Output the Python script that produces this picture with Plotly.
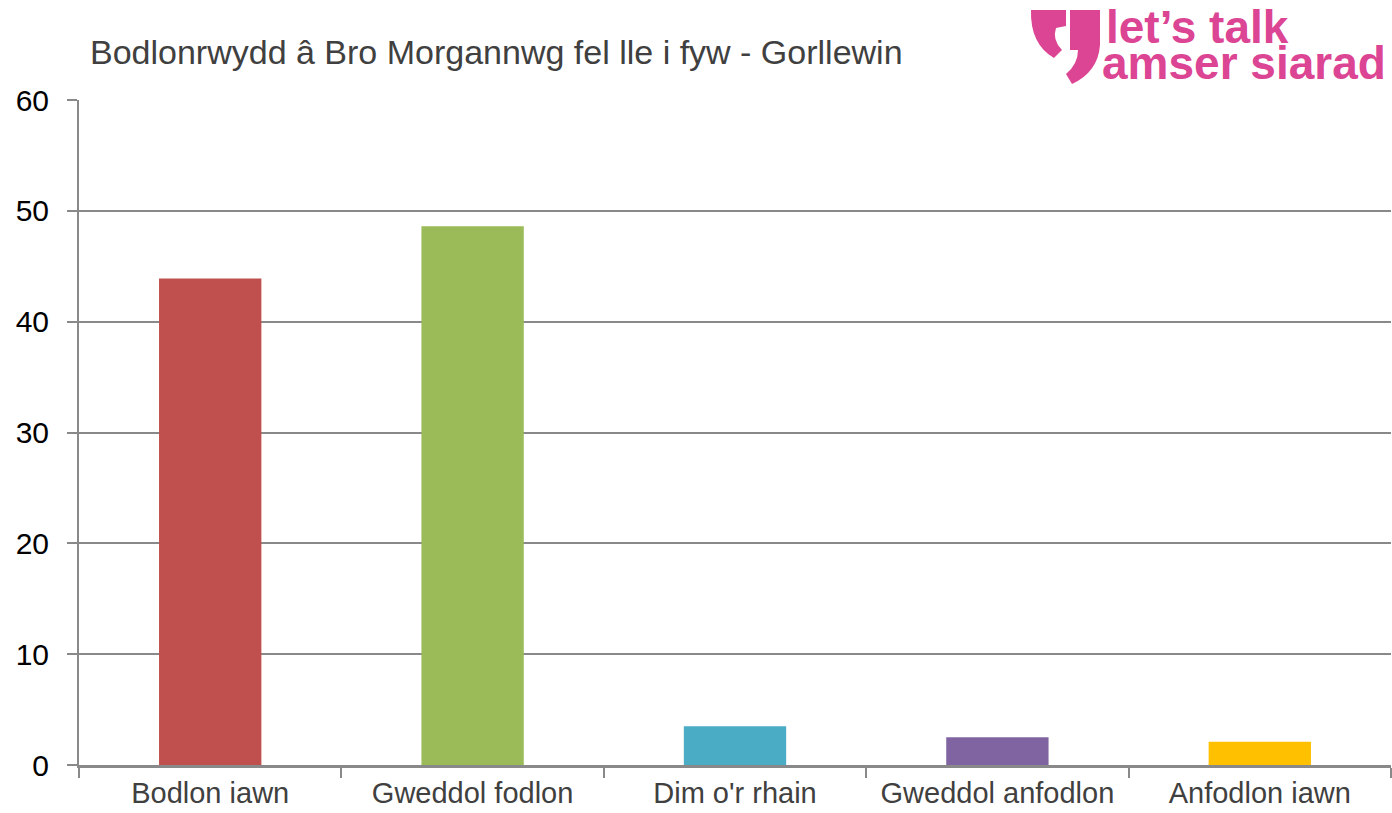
import plotly.graph_objects as go

categories = ["Bodlon iawn", "Gweddol fodlon", "Dim o'r rhain", "Gweddol anfodlon", "Anfodlon iawn"]
values = [43.9, 48.6, 3.5, 2.5, 2.1]
colors = ["#C0504D", "#9BBB59", "#4BACC6", "#8064A2", "#FFC000"]
title_text = "Bodlonrwydd â Bro Morgannwg fel lle i fyw - Gorllewin"

W, H = 1392, 813
L, R, T, B = 79, 1, 100, 48
PW = W - L - R
PH = H - T - B

def px(x):
    return (x - L) / PW

def py(y):
    return (H - B - y) / PH

fig = go.Figure()
fig.add_trace(go.Bar(
    x=categories, y=values, marker=dict(color=colors, line=dict(width=0)),
    width=0.39, showlegend=False, hoverinfo="x+y"))

grid = "#898989"
fig.update_layout(
    width=W, height=H,
    margin=dict(l=L, r=R, t=T, b=B),
    plot_bgcolor="white", paper_bgcolor="white",
    font=dict(family="Liberation Sans, Arial, sans-serif"),
)
fig.update_yaxes(
    range=[0, 60], dtick=10, showgrid=True, gridcolor=grid, gridwidth=2,
    showline=True, linecolor=grid, linewidth=2,
    ticks="outside", ticklen=10, tickcolor=grid, tickwidth=2,
    tickfont=dict(size=30, color="#000000", family="Liberation Sans, Arial"),
    zeroline=False, fixedrange=True, ticklabelstandoff=12,
)
fig.update_xaxes(
    showline=True, linecolor=grid, linewidth=3,
    ticks="outside", ticklen=10, tickcolor=grid, tickwidth=2,
    tickson="boundaries",
    tickfont=dict(size=29, color="#404040", family="Liberation Sans, Arial"),
    fixedrange=True,
)

# title
fig.add_annotation(text=title_text, xref="paper", yref="paper",
                   x=px(88), y=py(52), xanchor="left", yanchor="middle",
                   showarrow=False, font=dict(size=34, color="#404040"))

# logo
pink = "#DC4494"
fig.add_annotation(text="<b>let’s talk</b>", xref="paper", yref="paper",
                   x=px(1104), y=py(27), xanchor="left", yanchor="middle",
                   showarrow=False, font=dict(size=46, color=pink, family="Liberation Sans, Arial"))
fig.add_annotation(text="<b>amser siarad</b>", xref="paper", yref="paper",
                   x=px(1100), y=py(63), xanchor="left", yanchor="middle",
                   showarrow=False, font=dict(size=46, color=pink, family="Liberation Sans, Arial"))

def path(points):
    s = ""
    for cmd, pts in points:
        s += cmd + " ".join(f"{px(a):.5f},{py(b):.5f}" for a, b in pts) + " "
    return s + "Z"

left_mark = path([("M", [(1031, 10)]), ("L", [(1066, 10)]), ("L", [(1066, 26)]),
                  ("L", [(1056, 28)]), ("Q", [(1052, 40), (1062, 50)]),
                  ("L", [(1054, 58)]), ("Q", [(1030, 44), (1031, 10)])])
right_mark = path([("M", [(1070, 10)]), ("L", [(1100, 10)]), ("L", [(1100, 45)]),
                   ("Q", [(1098, 72), (1072, 84)]), ("L", [(1066, 74)]),
                   ("Q", [(1078, 64), (1078, 50)]), ("L", [(1070, 50)])])
for p in (left_mark, right_mark):
    fig.add_shape(type="path", path=p, xref="paper", yref="paper",
                  fillcolor=pink, line=dict(width=0), layer="above")

fig.write_html("out.html", config={"displayModeBar": False},
               post_script="document.body.style.margin='0';document.body.style.overflow='hidden';")
